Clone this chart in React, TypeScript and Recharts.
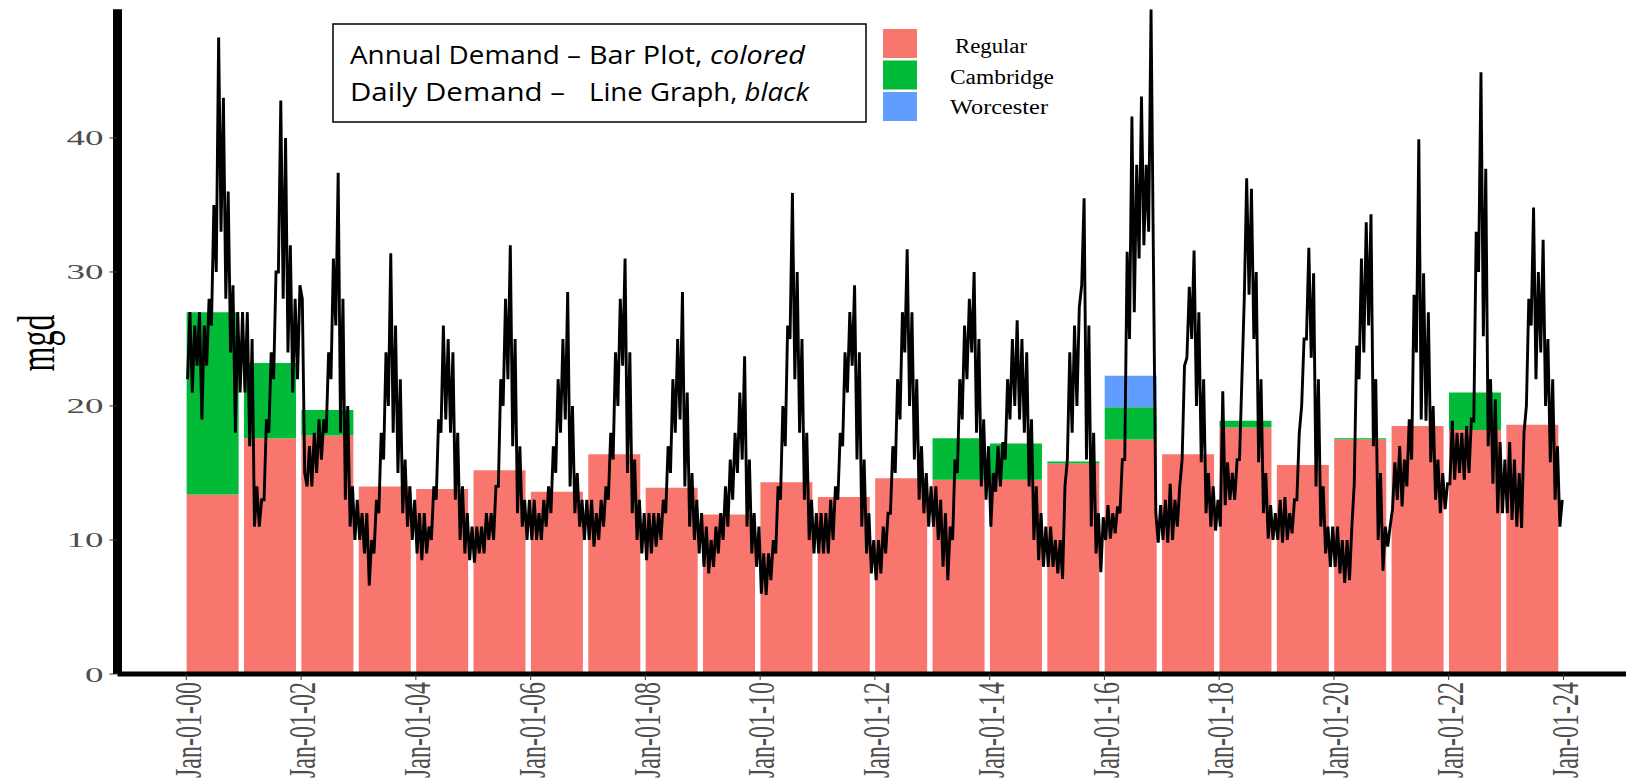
import React from 'react'
import { Bar, ComposedChart, Line, XAxis, YAxis } from 'recharts'

// annual demand (mgd), one bar per year, stacked
const years = [
  2000, 2001, 2002, 2003, 2004, 2005, 2006, 2007, 2008, 2009, 2010, 2011,
  2012, 2013, 2014, 2015, 2016, 2017, 2018, 2019, 2020, 2021, 2022, 2023
]
const regular = [
  13.4, 17.6, 17.8, 14.0, 13.8, 15.2, 13.6, 16.4, 13.9, 11.9, 14.3, 13.2,
  14.6, 14.5, 14.5, 15.7, 17.5, 16.4, 18.4, 15.6, 17.5, 18.5, 18.2, 18.6
]
const cambridge = [
  13.6, 5.6, 1.9, 0, 0, 0, 0, 0, 0, 0, 0, 0,
  0, 3.1, 2.7, 0.15, 2.4, 0, 0.5, 0, 0.1, 0, 2.8, 0
]
const worcester = [
  0, 0, 0, 0, 0, 0, 0, 0, 0, 0, 0, 0,
  0, 0, 0, 0, 2.35, 0, 0, 0, 0, 0, 0, 0
]

// daily demand read twice a month (low / high of the daily trace), one row per year
const dailyDemand = [
  [22, 27, 21, 26, 23, 27, 19, 26, 23, 28, 26, 35, 30, 47.5, 33, 43, 28, 36, 24, 29, 18, 27, 21, 27],
  [21, 27, 17, 25, 11, 14, 11, 13, 13, 19, 18, 24, 22, 30, 30, 42.8, 28, 40, 24, 32, 21, 28, 22, 29],
  [28, 15, 14, 17, 14, 18, 15, 19, 16, 19, 18, 24, 22, 31, 26, 37.4, 18, 28, 13, 20, 11, 14, 10, 13],
  [10, 12, 9, 12, 6.6, 10, 9, 13, 12, 18, 16, 24, 20, 31.4, 18, 26, 15, 22, 12, 16, 11, 14, 10, 13],
  [9, 12, 8.5, 12, 9, 11, 10, 14, 13, 19, 18, 26, 19, 25, 18, 24, 13, 18, 10, 14, 9, 12, 8.5, 11],
  [8.3, 11, 9, 11, 9, 12, 10, 12, 10, 14, 14, 22, 20, 28, 22, 32, 17, 25, 12, 17, 11, 13, 10, 13],
  [10, 13, 10, 12, 10, 13, 11, 14, 12, 17, 15, 22, 18, 25, 19, 28.5, 14, 20, 12, 15, 11, 13, 10, 13],
  [10, 13, 9.5, 12, 10, 13, 11, 14, 13, 18, 16, 24, 20, 28, 23, 31, 15, 24, 12, 16, 10, 13, 9, 12],
  [8.5, 12, 9, 12, 9.5, 12, 10, 13, 12, 17, 15, 22, 18, 25, 19, 28.5, 14, 21, 11, 15, 10, 13, 9, 12],
  [8, 11, 7.5, 10, 8, 11, 9, 12, 10, 14, 11, 16, 13, 18, 15, 21, 16, 23.7, 11, 16, 9, 12, 8, 11],
  [6, 9, 5.9, 9, 7, 10, 9, 14, 13, 20, 17, 26, 25, 35.9, 22, 30, 18, 25, 13, 18, 10, 13, 9, 12],
  [9, 12, 9, 12, 9, 13, 10, 14, 13, 18, 17, 24, 21, 27, 23, 29, 16, 24, 11, 16, 9, 12, 7.5, 10],
  [7, 10, 7.5, 11, 9, 12, 12, 17, 15, 22, 19, 27, 24, 31.7, 20, 27, 16, 22, 13, 17, 12, 15, 11, 14],
  [11, 14, 10, 13, 8, 12, 7, 11, 10, 16, 15, 22, 19, 26, 22, 28, 24, 30, 18, 25, 14, 19, 13, 17],
  [11, 15, 13.6, 17, 14, 17.3, 16, 22, 19, 25, 20, 26.4, 19, 25, 18, 24, 14, 19, 10, 14, 8.5, 12, 8, 11],
  [8, 11, 8, 10, 7.5, 10, 7.1, 14, 16, 24, 18, 26, 20, 27.4, 29, 35.5, 16, 26, 11, 18, 9, 12, 7.6, 11.7],
  [10, 12.6, 10.1, 12, 10.5, 12.5, 12, 16, 16, 31.5, 25, 41.6, 27, 38, 31, 43.1, 32, 38, 33, 49.6, 30.8, 12, 9.8, 12.6],
  [10, 13, 9.8, 14.2, 10, 13, 11, 14, 16, 23, 23.6, 28.9, 25, 31.6, 20, 27, 15.8, 22, 12, 15, 11, 14, 10.7, 13],
  [11, 21.1, 12.6, 15.8, 13, 15, 13, 16, 16, 22, 28, 37, 28.3, 36.2, 25, 30, 15.8, 22, 12, 15, 10.1, 12.6, 10, 12],
  [10, 13, 9.8, 13.2, 10, 12, 10.5, 13, 13, 18, 20, 25, 25, 31.8, 23.6, 29.9, 14, 22, 11, 14, 9, 11, 8, 11],
  [8, 11, 7.5, 10, 6.8, 10, 7, 11, 14.2, 24.5, 22, 31, 24, 33.7, 26, 34.3, 17, 22, 10, 15, 7.7, 11, 9.5, 11],
  [12.3, 15.8, 13, 17, 12.5, 16, 14, 19, 16, 28.3, 24, 39.9, 19, 29.9, 18.9, 27, 15.8, 20, 13, 16, 12, 15, 12.3, 14.2],
  [14.2, 18.9, 14.5, 18, 15, 18, 14.5, 18.5, 15, 19, 18.9, 33, 30, 44.9, 25.2, 37.7, 17, 22, 14.2, 20.5, 12, 17.3, 12, 16],
  [12, 17.3, 11.5, 16, 11, 15, 10.9, 18, 20, 28, 26, 34.8, 22, 30, 24, 32.4, 20, 25, 15.8, 22, 13, 17, 11, 13]
]

const yTicks = [0, 10, 20, 30, 40]
const xTicks = [0, 2, 4, 6, 8, 10, 12, 14, 16, 18, 20, 22, 24] // years after Jan-01-00

const legendItems = [
  { name: 'Regular', color: '#F8766D' },
  { name: 'Cambridge', color: '#00BA38' },
  { name: 'Worcester', color: '#619CFF' }
]

// x is measured in years since 2000-01-01
const barRows = years.map((yr, i) => ({
  t: yr - 2000 + 0.4525,
  regular: regular[i],
  cambridge: cambridge[i],
  worcester: worcester[i]
}))

const lineRows = dailyDemand.flatMap((vals, i) =>
  vals.map((v, k) => ({ t: i + (k + 0.5) / vals.length, demand: v }))
)

const xDomain = [-1.2, 25.09]
const yDomain = [0, 49.6]

const YTick = ({ x, y, payload }: any) => {
  const label = String(payload.value)
  return (
    <text
      x={x}
      y={y}
      dy={7.5}
      textAnchor="end"
      fontFamily="'Liberation Serif', serif"
      fontSize={22}
      fill="#4d4d4d"
      textLength={label.length * 18.5}
      lengthAdjust="spacingAndGlyphs"
    >
      {label}
    </text>
  )
}

const XTick = ({ x, payload }: any) => {
  const label = `Jan-01-${String(payload.value).padStart(2, '0')}`
  return (
    <g transform={`translate(${x + 1.5},682) scale(1.55,1) rotate(-90)`}>
      <text
        x={0}
        y={0}
        dy="0.34em"
        textAnchor="end"
        fontFamily="'Liberation Serif', serif"
        fontSize={24}
        fill="#4d4d4d"
      >
        {label}
      </text>
    </g>
  )
}

export default function App() {
  return (
    <div style={{ position: 'absolute', left: 0, top: 0, width: 1633, height: 784, background: '#fff', overflow: 'hidden' }}>
      <ComposedChart
        width={1633}
        height={784}
        data={barRows}
        margin={{ top: 9.3, right: 7, bottom: 0, left: 0 }}
        barGap={0}
      >
        <XAxis xAxisId="bars" dataKey="t" type="number" domain={xDomain} allowDataOverflow hide height={0} />
        <XAxis
          xAxisId="days"
          dataKey="t"
          type="number"
          domain={xDomain}
          allowDataOverflow
          ticks={xTicks}
          interval={0}
          height={110}
          axisLine={{ stroke: '#000', strokeWidth: 5 }}
          tickLine={{ stroke: '#333', strokeWidth: 1 }}
          tickSize={6}
          tick={<XTick />}
        />
        <YAxis
          type="number"
          domain={yDomain}
          allowDataOverflow
          ticks={yTicks}
          interval={0}
          width={117.5}
          axisLine={{ stroke: '#000', strokeWidth: 9 }}
          tickLine={{ stroke: '#333', strokeWidth: 1 }}
          tickSize={8}
          tickMargin={6}
          tick={<YTick />}
        />
        <Bar xAxisId="bars" dataKey="regular" stackId="a" fill="#F8766D" barSize={52} isAnimationActive={false} />
        <Bar xAxisId="bars" dataKey="cambridge" stackId="a" fill="#00BA38" barSize={52} isAnimationActive={false} />
        <Bar xAxisId="bars" dataKey="worcester" stackId="a" fill="#619CFF" barSize={52} isAnimationActive={false} />
        <Line
          xAxisId="days"
          data={lineRows}
          dataKey="demand"
          type="linear"
          stroke="#000"
          strokeWidth={2.9}
          dot={false}
          activeDot={false}
          isAnimationActive={false}
        />
      </ComposedChart>

      <svg width={1633} height={784} style={{ position: 'absolute', left: 0, top: 0, pointerEvents: 'none' }}>
        <g transform="translate(37.5,343) scale(1.67,1) rotate(-90)">
          <text textAnchor="middle" dy="0.3em" fontFamily="'Liberation Serif', serif" fontSize={32} fill="#000">
            mgd
          </text>
        </g>

        <rect x={333} y={24} width={533} height={98} fill="#fff" stroke="#000" strokeWidth={1.5} />
        <g fontFamily="'Open Sans', sans-serif" fontSize={26} fill="#000">
          <text x={350} y={64} textLength={231} lengthAdjust="spacingAndGlyphs">Annual Demand –</text>
          <text x={589} y={64} textLength={216} lengthAdjust="spacingAndGlyphs">
            Bar Plot, <tspan fontStyle="italic">colored</tspan>
          </text>
          <text x={350} y={101} textLength={215} lengthAdjust="spacingAndGlyphs">Daily Demand –</text>
          <text x={589} y={101} textLength={220} lengthAdjust="spacingAndGlyphs">
            Line Graph, <tspan fontStyle="italic">black</tspan>
          </text>
        </g>

        {legendItems.map((item, i) => (
          <g key={item.name}>
            <rect x={883} y={29 + i * 31.5} width={34} height={29} fill={item.color} />
            <text
              x={i === 0 ? 955 : 950}
              y={53 + i * 30.5}
              fontFamily="'Liberation Serif', serif"
              fontSize={20}
              fill="#000"
              textLength={[72, 104, 98][i]}
              lengthAdjust="spacingAndGlyphs"
            >
              {item.name}
            </text>
          </g>
        ))}
      </svg>
    </div>
  )
}
